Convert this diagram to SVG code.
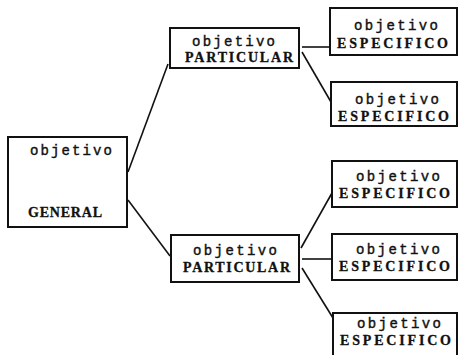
<svg xmlns="http://www.w3.org/2000/svg" width="460" height="355" viewBox="0 0 460 355">
<style>
.box{fill:#fff;stroke:#111;stroke-width:2}
.lo{font-family:"Liberation Mono","Courier New",monospace;font-size:14px;fill:#111;stroke:#111;stroke-width:0.4}
.up{font-family:"Liberation Serif","Times New Roman",serif;font-size:14px;font-weight:bold;fill:#111;stroke:#111;stroke-width:0.3}
.c{stroke:#111;stroke-width:1.6;fill:none}
</style>
<rect width="460" height="355" fill="#fff"/>
<g id="connectors">
<line class="c" x1="128" y1="172" x2="168" y2="64"/>
<line class="c" x1="128" y1="200" x2="170" y2="256"/>
<line class="c" x1="302" y1="47" x2="330" y2="47"/>
<line class="c" x1="302" y1="52" x2="331" y2="102"/>
<line class="c" x1="301" y1="248" x2="332" y2="193"/>
<line class="c" x1="302" y1="259" x2="332" y2="259"/>
<line class="c" x1="302" y1="268" x2="333" y2="318"/>
</g>
<g id="general">
<rect class="box" x="8" y="137" width="119" height="90"/>
<text class="lo" x="30" y="155" textLength="82" lengthAdjust="spacing">objetivo</text>
<text class="up" x="28" y="217" textLength="74" lengthAdjust="spacing">GENERAL</text>
</g>
<g id="particular1">
<rect class="box" x="170" y="28" width="129" height="40"/>
<text class="lo" x="192" y="46" textLength="83" lengthAdjust="spacing">objetivo</text>
<text class="up" x="185" y="62" textLength="108" lengthAdjust="spacing">PARTICULAR</text>
</g>
<g id="particular2">
<rect class="box" x="171" y="235" width="128" height="47"/>
<text class="lo" x="193" y="255" textLength="84" lengthAdjust="spacing">objetivo</text>
<text class="up" x="183" y="272" textLength="107" lengthAdjust="spacing">PARTICULAR</text>
</g>
<g id="especifico1">
<rect class="box" x="330" y="8" width="127" height="47"/>
<text class="lo" x="354" y="30" textLength="84" lengthAdjust="spacing">objetivo</text>
<text class="up" x="337" y="48" textLength="111" lengthAdjust="spacing">ESPECIFICO</text>
</g>
<g id="especifico2">
<rect class="box" x="331" y="82" width="126" height="44"/>
<text class="lo" x="355" y="104" textLength="84" lengthAdjust="spacing">objetivo</text>
<text class="up" x="338" y="121" textLength="111" lengthAdjust="spacing">ESPECIFICO</text>
</g>
<g id="especifico3">
<rect class="box" x="332" y="161" width="125" height="46"/>
<text class="lo" x="356" y="181" textLength="84" lengthAdjust="spacing">objetivo</text>
<text class="up" x="339" y="198" textLength="111" lengthAdjust="spacing">ESPECIFICO</text>
</g>
<g id="especifico4">
<rect class="box" x="332" y="234" width="125" height="46"/>
<text class="lo" x="356" y="254" textLength="84" lengthAdjust="spacing">objetivo</text>
<text class="up" x="339" y="271" textLength="111" lengthAdjust="spacing">ESPECIFICO</text>
</g>
<g id="especifico5">
<rect class="box" x="333" y="313" width="124" height="45"/>
<text class="lo" x="357" y="328" textLength="84" lengthAdjust="spacing">objetivo</text>
<text class="up" x="340" y="345" textLength="111" lengthAdjust="spacing">ESPECIFICO</text>
</g>
</svg>
